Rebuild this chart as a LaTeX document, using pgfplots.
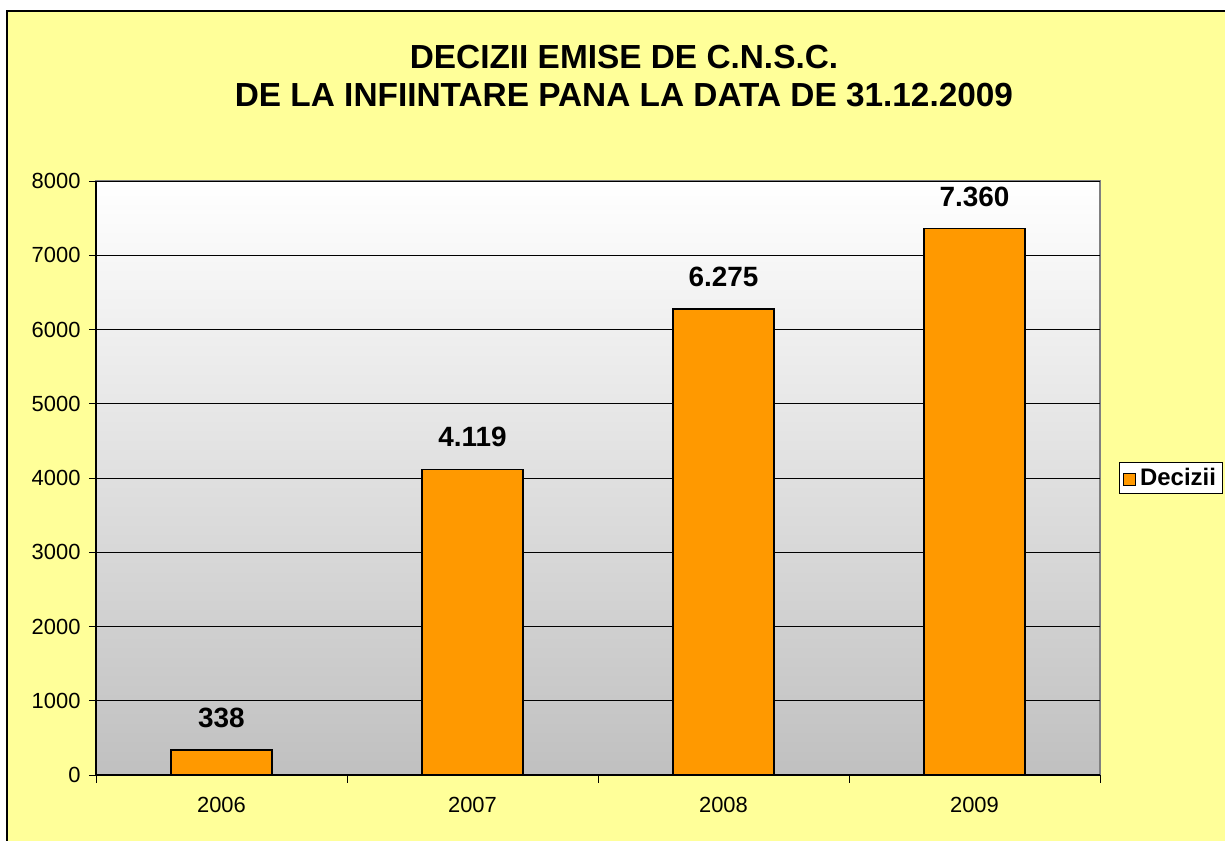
\documentclass[border=0pt]{standalone}
\usepackage{fontspec}
\setmainfont{Liberation Sans}
\usepackage{pgfplots}
\pgfplotsset{compat=1.18}
\definecolor{chartbg}{HTML}{FFFF99}
\definecolor{barorange}{HTML}{FF9900}
\definecolor{plotbottom}{HTML}{C0C0C0}

\begin{document}
\begin{tikzpicture}
% page = 1225 x 841 px (1 px = 1bp), y measured from the bottom
\useasboundingbox (0bp,0bp) rectangle (1225bp,841bp);
\fill[white] (0bp,0bp) rectangle (1225bp,841bp);
\fill[chartbg] (7bp,0bp) rectangle (1240bp,830bp);
\draw[line width=1.2bp] (7bp,-5bp) -- (7bp,830bp) -- (1240bp,830bp);

\node[font=\bfseries\fontsize{33.5}{38}\selectfont, align=center] at (624bp,765bp)
  {DECIZII EMISE DE C.N.S.C.\\DE LA INFIINTARE PANA LA DATA DE 31.12.2009};

\begin{axis}[
    at={(96bp,66bp)}, anchor=south west,
    scale only axis,
    width=1004bp, height=594bp,
    ybar,
    bar width=101bp,
    xmin=-0.5, xmax=3.5,
    ymin=0, ymax=8000,
    ytick={0,1000,...,8000},
    xtick={0,1,2,3},
    xticklabels={2006,2007,2008,2009},
    minor xtick={-0.5,0.5,1.5,2.5,3.5},
    major x tick style={draw=none},
    tick align=outside,
    major tick length=7bp,
    minor tick length=8bp,
    tick style={black, line width=0.8bp},
    axis x line*=bottom,
    axis y line*=left,
    axis line style={black, line width=1.2bp, -},
    ymajorgrids=true,
    grid style={black, line width=0.8bp},
    axis background/.style={top color=white, bottom color=plotbottom, draw=gray, line width=1.2bp},
    ticklabel style={font=\fontsize{22}{26}\selectfont},
    /pgf/number format/assume math mode=true,
    yticklabel style={/pgf/number format/1000 sep={}, xshift=-5bp},
    xticklabel style={yshift=-12bp},
    nodes near coords={\pgfmathprintnumber[1000 sep={.}]{\pgfplotspointmeta}},
    every node near coord/.append style={font=\bfseries\fontsize{28}{28}\selectfont, black, yshift=18bp},
    legend style={at={(1.0189,0.5)}, anchor=west, draw=black, line width=0.8bp, fill=white,
      font=\bfseries\fontsize{24}{26}\selectfont, inner sep=4bp,
      /tikz/every odd column/.append style={column sep=2bp}},
    legend image code/.code={\draw[#1, line width=0.8bp] (2bp,-7bp) rectangle (14bp,5bp);},
]
\addplot[fill=barorange, draw=black, line width=1.2bp] coordinates {
    (0,338) (1,4119) (2,6275) (3,7360)
};
\addlegendentry{Decizii}
\end{axis}
\end{tikzpicture}
\end{document}
